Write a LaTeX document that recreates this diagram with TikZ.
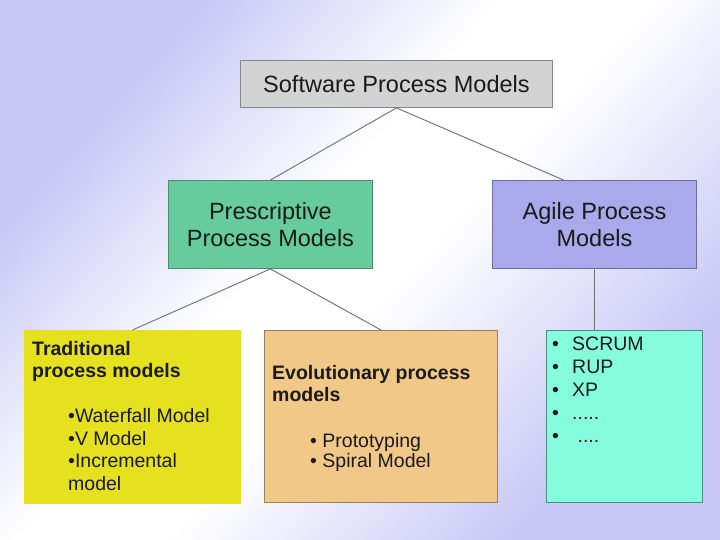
\documentclass[tikz,border=0pt]{standalone}
\usepackage{fontspec}
\setmainfont{Liberation Sans}
\definecolor{lav}{RGB}{200,200,246}
\definecolor{txt}{RGB}{26,26,26}
\definecolor{linegray}{RGB}{110,110,110}
\definecolor{topgray}{RGB}{211,211,211}
\definecolor{topborder}{RGB}{135,135,135}
\definecolor{pgreen}{RGB}{102,204,158}
\definecolor{pgreenb}{RGB}{78,140,114}
\definecolor{alav}{RGB}{169,169,236}
\definecolor{alavb}{RGB}{110,110,158}
\definecolor{tyellow}{RGB}{230,225,30}
\definecolor{etan}{RGB}{242,200,136}
\definecolor{etanb}{RGB}{150,128,96}
\definecolor{aqua}{RGB}{133,252,220}
\definecolor{aquab}{RGB}{78,140,130}
\pgfdeclareverticalshading{bgshade}{100bp}{color(0bp)=(lav); color(27bp)=(lav); color(47bp)=(white); color(56bp)=(white); color(73bp)=(lav); color(100bp)=(lav)}
\begin{document}
\begin{tikzpicture}[x=1pt,y=-1pt,
  box/.style={rectangle, inner sep=0pt, anchor=north west, line width=0.9pt},
  conn/.style={draw=linegray, line width=0.9pt},
  big/.style={font=\fontsize{23.5}{27}\selectfont, text=txt, align=center},
  small/.style={font=\fontsize{19.5}{22.7}\selectfont, text=txt, align=left, inner sep=0pt, anchor=north west},
  smallbold/.style={small, font=\fontsize{19.5}{22}\selectfont\bfseries}]
\useasboundingbox (0,0) rectangle (720,539);
\shade[shading=bgshade, shading angle=48] (0,0) rectangle (720,539);

\node[box, big, draw=topborder, fill=topgray, minimum width=312pt, minimum height=47pt] (spm) at (240,60) {Software Process Models};
\node[box, big, draw=pgreenb, fill=pgreen, minimum width=204pt, minimum height=88pt] (presc) at (168,180) {Prescriptive\\Process Models};
\node[box, big, draw=alavb, fill=alav, minimum width=204pt, minimum height=88pt] (agile) at (492,180) {Agile Process\\Models};

\node[box, draw=tyellow, fill=tyellow, minimum width=216pt, minimum height=173pt] (trad) at (24,330) {};
\node[box, draw=etanb, fill=etan, minimum width=233pt, minimum height=172pt] (evo) at (264,330) {};
\node[box, draw=aquab, fill=aqua, minimum width=156pt, minimum height=172pt] (alist) at (546,330) {};

\node[smallbold] (tradh) at (32,341) {Traditional\\process models};
\node[small] (tradl) at (68,408) {•Waterfall Model\\•V Model\\•Incremental\\model};
\node[smallbold] (evoh) at (272,365) {Evolutionary process\\models};
\node[small, font=\fontsize{19.5}{20.5}\selectfont] (evol) at (310,433) {• Prototyping\\• Spiral Model};
\node[small, font=\fontsize{19.5}{23}\selectfont] (alistt) at (552,337) {\makebox[20pt][l]{•}SCRUM\\\makebox[20pt][l]{•}RUP\\\makebox[20pt][l]{•}XP\\\makebox[20pt][l]{•}.....\\\makebox[20pt][l]{•}\ ....};

\draw[conn] (spm.south) -- (presc.north);
\draw[conn] (spm.south) -- ([xshift=-31pt]agile.north);
\draw[conn] (presc.south) -- (trad.north);
\draw[conn] (presc.south) -- (evo.north);
\draw[conn] (agile.south) -- (agile.south |- alist.north);
\end{tikzpicture}
\end{document}
